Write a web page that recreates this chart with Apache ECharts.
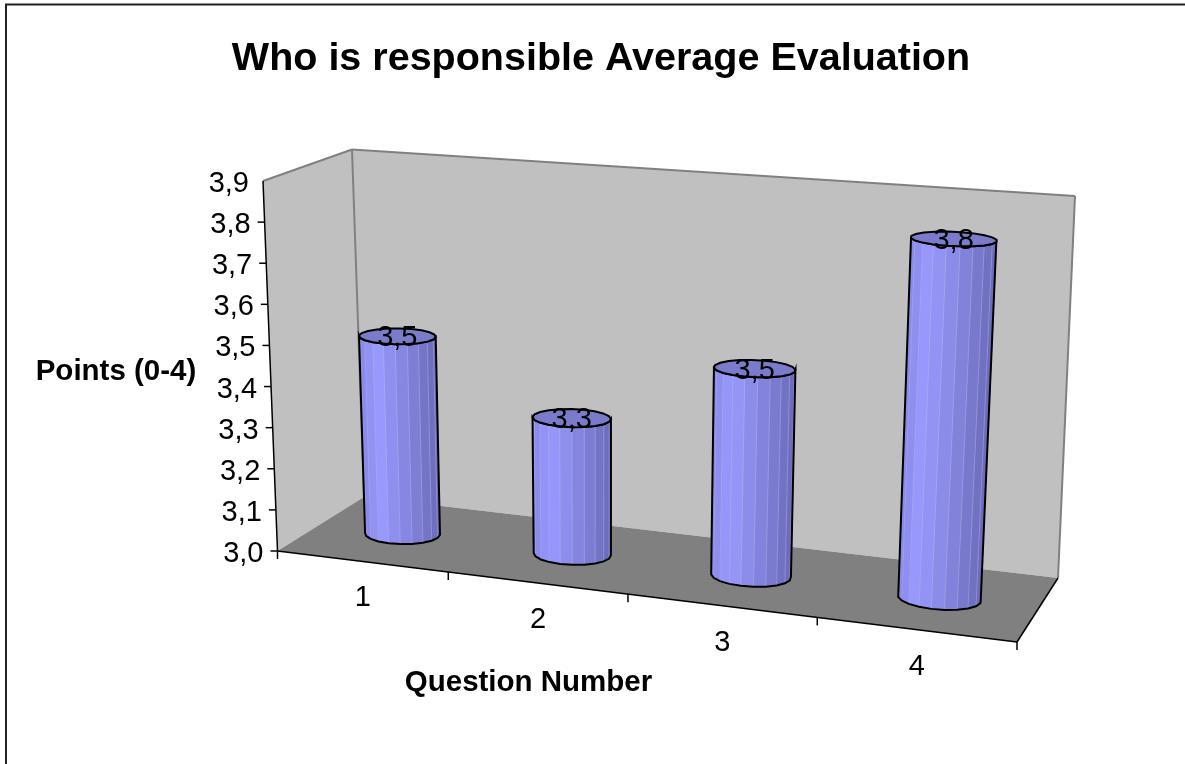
<!DOCTYPE html>
<html>
<head>
<meta charset="utf-8">
<title>Who is responsible Average Evaluation</title>
<script src="https://cdn.jsdelivr.net/npm/echarts@6/dist/echarts.min.js"></script>
<style>
  html, body { margin: 0; padding: 0; background: #fff; }
  #chart { width: 1185px; height: 764px; }
</style>
</head>
<body>
<div id="chart"></div>
<script>
const categories = ["1", "2", "3", "4"];
const values = [3.49, 3.33, 3.49, 3.83];
const yTicks = [3.0, 3.1, 3.2, 3.3, 3.4, 3.5, 3.6, 3.7, 3.8, 3.9];

const FONT = '"Liberation Sans", Arial, sans-serif';

// screen corners of the 3D box (front / back, bottom / top)
const box = {
  fb: [[277.5, 551], [1017, 642]],
  ft: [[263, 181], [1040, 235]],
  bb: [[364, 497], [1058, 578]],
  bt: [[352, 149.5], [1075, 196]],
};
// perspective along the category axis
const PERSP = 1.11;
const RAD_U = 0.0527;
const RAD_D = 0.17;

const lerp = (a, b, t) => [a[0] + (b[0] - a[0]) * t, a[1] + (b[1] - a[1]) * t];

// u: 0-1 along categories, v: 0-1 up the value axis, d: 0-1 front to back
function project(u, v, d) {
  const t = u / (u + PERSP * (1 - u));
  const front = lerp(lerp(box.fb[0], box.fb[1], t), lerp(box.ft[0], box.ft[1], t), v);
  const back = lerp(lerp(box.bb[0], box.bb[1], t), lerp(box.bt[0], box.bt[1], t), v);
  return lerp(front, back, d);
}

// grid pixel -> box coordinates, so every mark goes through the axis scales
function toBox(params, px, py) {
  const g = params.coordSys;
  return [(px - g.x) / g.width, (g.y + g.height - py) / g.height];
}

function poly(points, style, z2) {
  return { type: "polygon", shape: { points }, style, z2: z2 || 0 };
}
function seg(a, b, stroke, lineWidth, z2) {
  return {
    type: "line",
    shape: { x1: a[0], y1: a[1], x2: b[0], y2: b[1] },
    style: { stroke, lineWidth, fill: null },
    z2: z2 || 0,
  };
}

function renderWalls() {
  const wall = { fill: "#c0c0c0" };
  const edge = "#808080";
  return {
    type: "group",
    children: [
      poly([project(0, 0, 0), project(0, 1, 0), project(0, 1, 1), project(0, 0, 1)], wall),
      poly([project(0, 0, 1), project(0, 1, 1), project(1, 1, 1), project(1, 0, 1)], wall),
      poly([project(0, 0, 0), project(0, 0, 1), project(1, 0, 1), project(1, 0, 0)], { fill: "#808080" }),
      seg(project(0, 1, 0), project(0, 1, 1), edge, 2),
      seg(project(0, 1, 1), project(1, 1, 1), edge, 2),
      seg(project(0, 0, 1), project(0, 1, 1), edge, 2),
      seg(project(1, 1, 1), project(1, 0, 1), edge, 2),
      seg(project(0, 0, 0), project(0, 1, 0), "#000", 1.5, 2),
      seg(project(0, 0, 0), project(1, 0, 0), "#000", 1.5, 2),
      seg(project(1, 0, 0), project(1, 0, 1), "#000", 1.5, 2),
    ],
  };
}

function renderYTick(params, api) {
  const c = api.coord([0, api.value(0)]);
  const g = params.coordSys;
  const b = toBox(params, g.x, c[1]);
  const p = project(0, b[1], 0);
  const kids = [];
  if (params.dataIndex < yTicks.length - 1) {
    kids.push(seg([p[0] - 7, p[1]], p, "#000", 1.5));
  }
  kids.push({
    type: "text",
    style: {
      x: p[0] - 14,
      y: p[1] + 3,
      text: yTicks[params.dataIndex].toFixed(1).replace(".", ","),
      font: "29px " + FONT,
      fill: "#000",
      align: "right",
      verticalAlign: "middle",
    },
  });
  return { type: "group", children: kids };
}

function renderXTick(params, api) {
  const i = api.value(0);
  const g = params.coordSys;
  const kids = [];
  const step = g.width / categories.length;
  const left = toBox(params, g.x + step * i, g.y + g.height);
  const p = project(left[0], 0, 0);
  kids.push(seg(p, [p[0], p[1] + 8], "#000", 1.5));
  if (i < categories.length) {
    const c = api.coord([i, 3.0]);
    const b = toBox(params, c[0], c[1]);
    const q = project(b[0], 0, 0);
    kids.push({
      type: "text",
      style: {
        x: q[0] + 1,
        y: q[1] + 37,
        text: categories[i],
        font: "29px " + FONT,
        fill: "#000",
        align: "center",
        verticalAlign: "middle",
      },
    });
  }
  return { type: "group", children: kids };
}

const FACETS = 20;

function ring(u, v) {
  const pts = [];
  for (let k = 0; k < FACETS; k++) {
    const a = (k / FACETS) * Math.PI * 2;
    pts.push(project(u + RAD_U * Math.cos(a), v, 0.5 - RAD_D * Math.sin(a)));
  }
  return pts;
}

// lit from left of centre, darker to the right
function shade(f) {
  const stops = [[0, [136, 136, 232]], [0.22, [153, 153, 255]], [0.6, [132, 132, 222]], [1, [106, 106, 184]]];
  for (let i = 1; i < stops.length; i++) {
    if (f <= stops[i][0]) {
      const s = (f - stops[i - 1][0]) / (stops[i][0] - stops[i - 1][0]);
      const col = stops[i - 1][1].map((c, j) => Math.round(c + (stops[i][1][j] - c) * s));
      return "rgb(" + col.join(",") + ")";
    }
  }
  return "rgb(106,106,184)";
}

function renderCylinder(params, api) {
  const c = api.coord([api.value(0), api.value(1)]);
  const zero = api.coord([api.value(0), 3.0]);
  const top = toBox(params, c[0], c[1]);
  const base = toBox(params, zero[0], zero[1]);
  const T = ring(top[0], top[1]);
  const B = ring(base[0], base[1]);
  // walk the near side of the base from its rightmost to its leftmost vertex
  let il = 0, ir = 0;
  B.forEach((p, k) => {
    if (p[0] < B[il][0]) il = k;
    if (p[0] > B[ir][0]) ir = k;
  });
  const idx = [];
  for (let k = ir; k !== il; k = (k + 1) % FACETS) idx.push(k);
  idx.push(il);
  const kids = [];
  idx.slice(0, -1).forEach((k, n) => {
    const m = idx[n + 1];
    const xm = (B[k][0] + B[m][0]) / 2;
    const f = (xm - B[il][0]) / (B[ir][0] - B[il][0]);
    const col = shade(f);
    kids.push(poly([T[k], T[m], B[m], B[k]], { fill: col, stroke: col, lineWidth: 0.5 }, 1));
    if (n > 0) kids.push(seg(T[k], B[k], "rgba(190,190,240,0.35)", 1, 2));
  });
  const outline = idx.map((k) => B[k]).concat(idx.slice().reverse().map((k) => T[k]));
  kids.push(poly(outline, { fill: null, stroke: "#000", lineWidth: 2 }, 3));
  kids.push(poly(T, { fill: "#7b7bcc", stroke: "#000", lineWidth: 2 }, 4));
  const mid = project(top[0], top[1], 0.5);
  kids.push({
    type: "text",
    style: {
      x: mid[0],
      y: mid[1] + 2,
      text: api.value(1).toFixed(1).replace(".", ","),
      font: "29px " + FONT,
      fill: "#000",
      align: "center",
      verticalAlign: "middle",
    },
    z2: 5,
  });
  return { type: "group", children: kids };
}

const option = {
  animation: false,
  backgroundColor: "#fff",
  title: {
    text: "Who is responsible Average Evaluation",
    left: 596,
    top: 54,
    textAlign: "center",
    textVerticalAlign: "middle",
    textStyle: { fontFamily: FONT, fontSize: 39.5, fontWeight: "bold", color: "#000" },
  },
  grid: { left: 278, right: 168, top: 181, bottom: 122 },
  xAxis: { type: "category", data: categories, show: false },
  yAxis: { type: "value", min: 3.0, max: 3.9, interval: 0.1, show: false },
  graphic: [
    { type: "line", shape: { x1: 5, y1: 4.5, x2: 1185, y2: 4.5 }, style: { stroke: "#222", lineWidth: 2 }, silent: true },
    { type: "line", shape: { x1: 6, y1: 4, x2: 6, y2: 764 }, style: { stroke: "#222", lineWidth: 2 }, silent: true },
    { type: "text", x: 116, y: 372, style: { text: "Points (0-4)", font: "bold 29.5px " + FONT, fill: "#000", align: "center", verticalAlign: "middle" } },
    { type: "text", x: 528.5, y: 683, style: { text: "Question Number", font: "bold 29.5px " + FONT, fill: "#000", align: "center", verticalAlign: "middle" } },
  ],
  series: [
    { name: "walls", type: "custom", z: 1, silent: true, renderItem: renderWalls, data: [[0]], encode: { x: 0, y: [] } },
    { name: "yTicks", type: "custom", z: 2, silent: true, renderItem: renderYTick, data: yTicks.map((v) => [v]), encode: { y: 0 } },
    { name: "xTicks", type: "custom", z: 2, silent: true, renderItem: renderXTick, data: [0, 1, 2, 3, 4].map((i) => [i]), encode: { x: 0 } },
    { name: "Average", type: "custom", z: 3, silent: true, renderItem: renderCylinder, data: values.map((v, i) => [i, v]), encode: { x: 0, y: 1 } },
  ],
};

const chart = echarts.init(document.getElementById("chart"));
chart.setOption(option);
</script>
</body>
</html>
